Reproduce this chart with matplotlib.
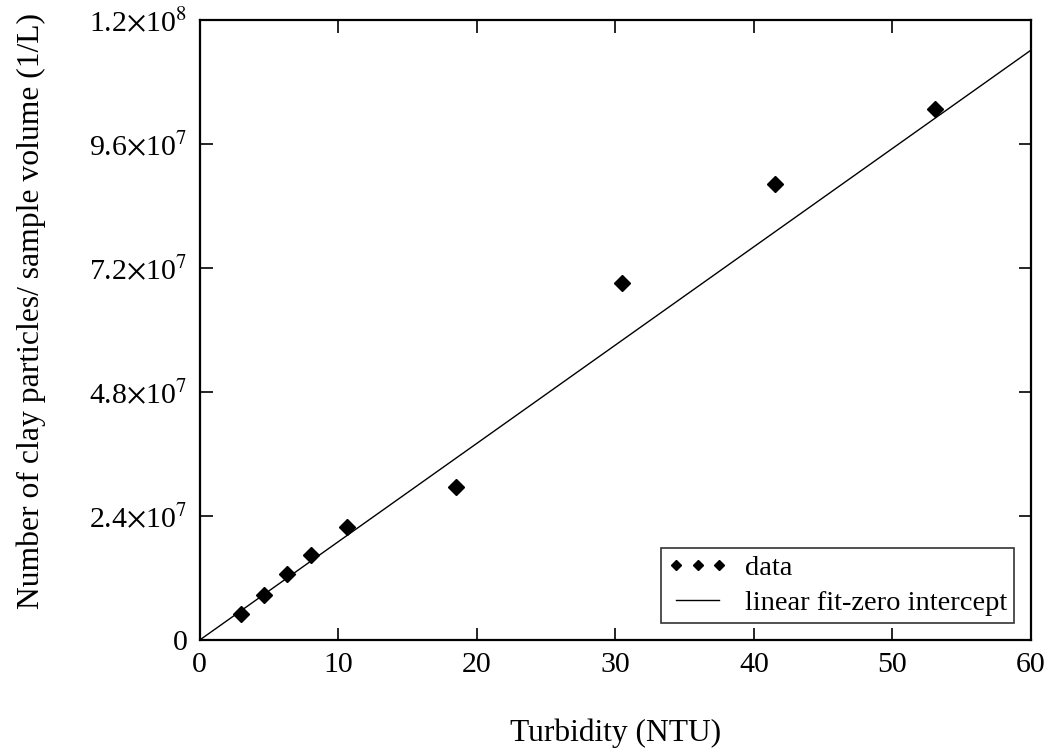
import matplotlib
matplotlib.use("Agg")
import matplotlib.pyplot as plt
import numpy as np

plt.rcParams['font.family'] = ['Liberation Serif', 'DejaVu Serif']
plt.rcParams['mathtext.fontset'] = 'stix'

# measured data
turbidity = [3.0, 4.6, 6.3, 8.0, 10.6, 18.5, 30.5, 41.5, 53.1]
particles = [5.0e6, 8.7e6, 12.8e6, 16.5e6, 21.9e6, 29.6e6, 69.1e6, 88.3e6, 102.8e6]

# zero intercept fit
slope = 1.903e6
fit_x = [0, 60]

yticks = [0, 2.4e7, 4.8e7, 7.2e7, 9.6e7, 1.2e8]
ytick_labels = ['0', r'2.4$\times$10$^7$', r'4.8$\times$10$^7$', r'7.2$\times$10$^7$',
                r'9.6$\times$10$^7$', r'1.2$\times$10$^8$']

fig = plt.figure(figsize=(10.46, 7.5), dpi=100)
ax = fig.add_axes([0.191, 0.1467, 0.7947, 0.8266])

ax.plot(turbidity, particles, 'D', color='black', markersize=8, label='data')
ax.plot(fit_x, [slope * v for v in fit_x], color='black', linewidth=1.0,
        label='linear fit-zero intercept')

ax.set_xlim(0, 60)
ax.set_ylim(0, 1.2e8)
ax.set_xticks([0, 10, 20, 30, 40, 50, 60])
ax.set_yticks(yticks)
ax.set_yticklabels(ytick_labels)
ax.tick_params(direction='in', length=9, width=1.2, top=True, right=True,
               labelsize=21.5, pad=9)
for s in ax.spines.values():
    s.set_linewidth(1.6)

ax.set_xlabel('Turbidity (NTU)', fontsize=22.7, labelpad=29)
ax.set_ylabel('Number of clay particles/ sample volume (1/L)', fontsize=22.8)
ax.yaxis.set_label_coords(-0.185, 0.531)

leg = ax.legend(loc='lower right', numpoints=3, fontsize=20.5, frameon=True,
                fancybox=False, edgecolor='black', borderaxespad=0.6,
                handlelength=2.1, handletextpad=0.6, borderpad=0.25,
                labelspacing=0.3, markerscale=0.7)
leg.get_frame().set_linewidth(1.2)

fig.savefig('out.png', dpi=100)
